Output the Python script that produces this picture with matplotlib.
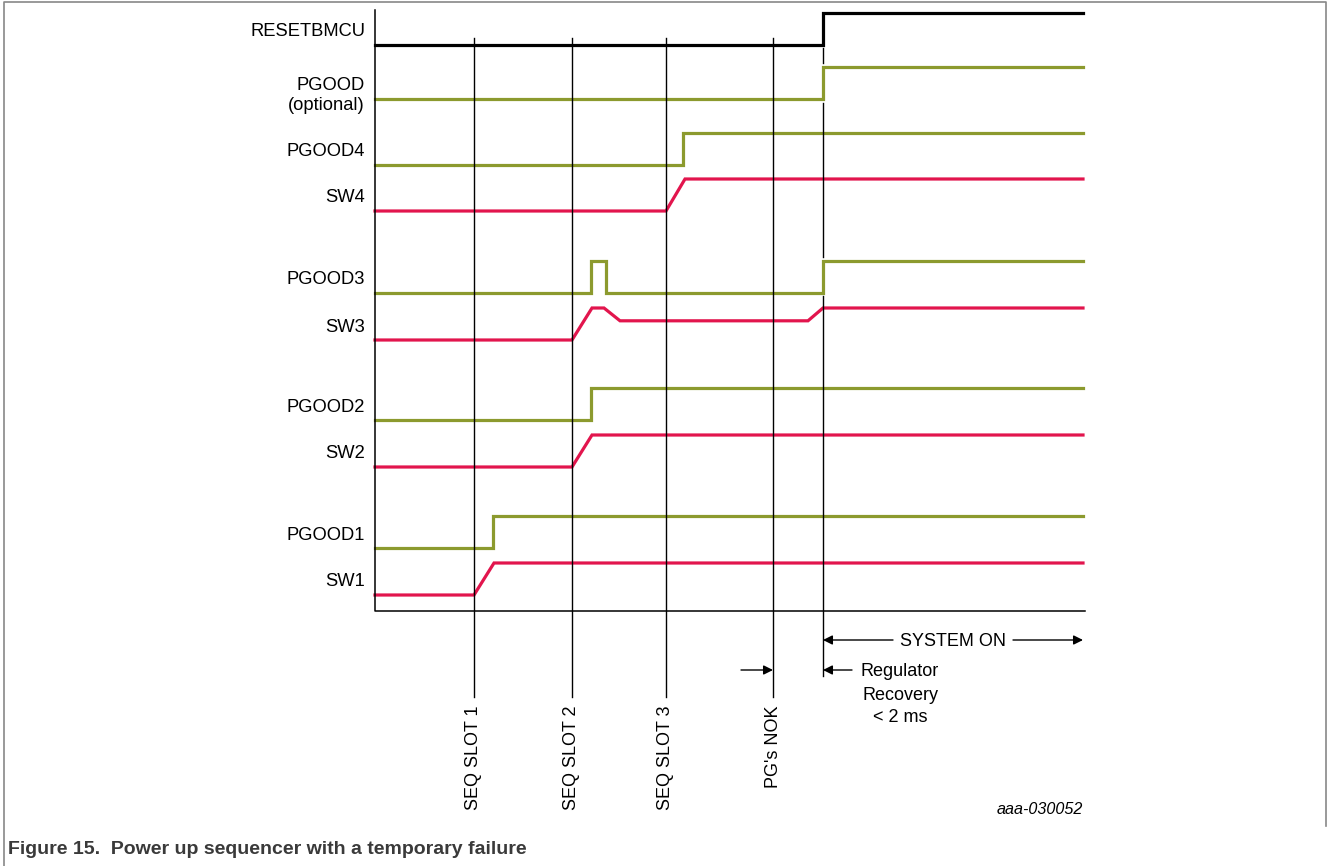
"""
Power up sequencer with a temporary failure - timing diagram
"""

import matplotlib.pyplot as plt

plt.rcParams["font.family"] = ["Liberation Sans", "DejaVu Sans"]

OLIVE = "#8c9a2e"
RED = "#e2154d"

# signal rows: name, baseline (low level), colour, breakpoints, levels (0 = low, 1 = high)
names = ["RESETBMCU", "PGOOD", "PGOOD4", "SW4", "PGOOD3", "SW3",
         "PGOOD2", "SW2", "PGOOD1", "SW1"]
baselines = [45, 99, 165, 211, 293, 340, 420, 467, 548, 595]
label_y = [30, 84, 150, 196, 278, 325, 406, 452, 533, 580]
colours = ["black", OLIVE, OLIVE, RED, OLIVE, RED, OLIVE, RED, OLIVE, RED]
times = [
    [375, 823, 823, 1083],
    [375, 823, 823, 1083],
    [375, 683, 683, 1083],
    [375, 666, 685, 1083],
    [375, 591, 591, 606, 606, 823, 823, 1083],
    [375, 572, 592, 604, 620, 808, 823, 1083],
    [375, 591, 591, 1083],
    [375, 572, 592, 1083],
    [375, 493, 493, 1083],
    [375, 474, 494, 1083],
]
levels = [
    [0, 0, 1, 1],
    [0, 0, 1, 1],
    [0, 0, 1, 1],
    [0, 0, 1, 1],
    [0, 0, 1, 1, 0, 0, 1, 1],
    [0, 0, 1, 1, 0.6, 0.6, 1, 1],
    [0, 0, 1, 1],
    [0, 0, 1, 1],
    [0, 0, 1, 1],
    [0, 0, 1, 1],
]
swing = 32

# event markers
marker_x = [474, 572, 666, 773]
marker_labels = ["SEQ SLOT 1", "SEQ SLOT 2", "SEQ SLOT 3", "PG's NOK"]
reset_x = 823
reset_segments = [(48, 63), (103, 257), (296, 676)]
recovery_lines = ["Regulator", "Recovery", "< 2 ms"]

fig = plt.figure(figsize=(13.33, 8.66), dpi=100)
ax = fig.add_axes([0, 0, 1, 1])
ax.set_xlim(0, 1333)
ax.set_ylim(866, 0)
ax.axis("off")

# frame
ax.plot([4, 4, 1326, 1326], [866, 2, 2, 826], color="#888888", lw=1.2)

# axes of the diagram
ax.plot([375, 375, 1085], [10, 611, 611], color="black", lw=1.1, zorder=4)

for name, base, ly, col, xs, lv in zip(names, baselines, label_y, colours, times, levels):
    ax.plot(xs, [base - v * swing for v in lv], color=col, lw=2.3,
            solid_joinstyle="miter", zorder=3)
    ax.text(365, ly, name, ha="right", va="center_baseline", fontsize=13.2)
ax.text(365, 104, "(optional)", ha="right", va="center_baseline", fontsize=13.2)

for mx, ml in zip(marker_x, marker_labels):
    ax.plot([mx, mx], [38, 697], color="black", lw=1.0, zorder=5)
    ax.text(mx, 705, ml, rotation=90, ha="center", va="top", fontsize=13)

for y0, y1 in reset_segments:
    ax.plot([reset_x, reset_x], [y0, y1], color="black", lw=1.0, zorder=5)

arrow = dict(arrowstyle="-|>", color="black", lw=1.0, mutation_scale=14,
             shrinkA=0, shrinkB=0)
ax.annotate("", xy=(reset_x, 640), xytext=(893, 640), arrowprops=arrow)
ax.annotate("", xy=(1083, 640), xytext=(1013, 640), arrowprops=arrow)
ax.text(953, 640, "SYSTEM ON", ha="center", va="center_baseline", fontsize=13)
ax.annotate("", xy=(773, 670), xytext=(741, 670), arrowprops=arrow)
ax.annotate("", xy=(reset_x, 670), xytext=(852, 670), arrowprops=arrow)
for i, line in enumerate(recovery_lines):
    ax.text(900, 670 + 23 * i, line, ha="center", va="center_baseline",
            fontsize=13)

ax.text(1083, 808, "aaa-030052", ha="right", va="center_baseline",
        fontsize=11.6, style="italic")
ax.text(8, 848, "Figure 15.  Power up sequencer with a temporary failure",
        ha="left", va="center_baseline", fontsize=14, fontweight="bold",
        color="#3a3a3a")

fig.savefig("out.png", dpi=100)
